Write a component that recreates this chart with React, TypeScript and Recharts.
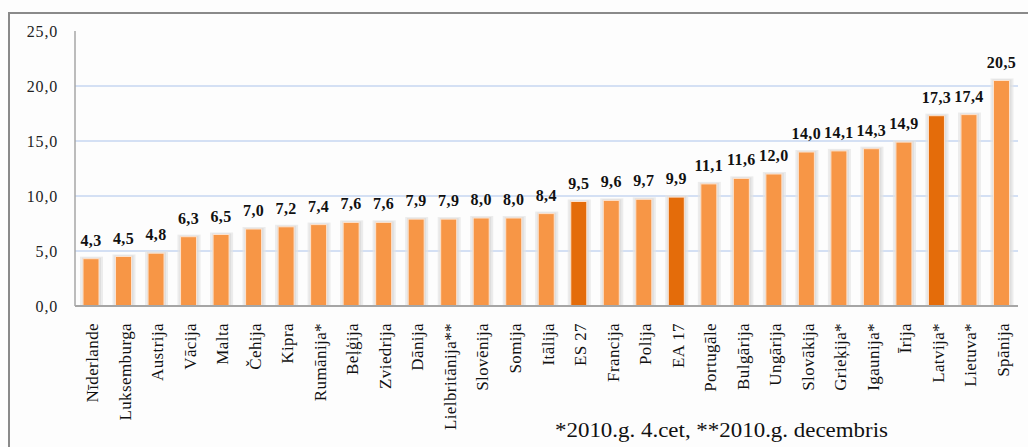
import React from "react";
import { BarChart, Bar, XAxis, YAxis, CartesianGrid, LabelList } from "recharts";

const categories = [
  "Nīderlande", "Luksemburga", "Austrija", "Vācija", "Malta", "Čehija", "Kipra",
  "Rumānija*", "Beļģija", "Zviedrija", "Dānija", "Lielbritānija**", "Slovēnija",
  "Somija", "Itālija", "ES 27", "Francija", "Polija", "EA 17", "Portugāle",
  "Bulgārija", "Ungārija", "Slovākija", "Grieķija*", "Igaunija*", "Īrija",
  "Latvija*", "Lietuva*", "Spānija",
];
const values = [
  4.3, 4.5, 4.8, 6.3, 6.5, 7.0, 7.2, 7.4, 7.6, 7.6, 7.9, 7.9, 8.0, 8.0, 8.4,
  9.5, 9.6, 9.7, 9.9, 11.1, 11.6, 12.0, 14.0, 14.1, 14.3, 14.9, 17.3, 17.4, 20.5,
];
const highlighted = ["ES 27", "EA 17", "Latvija*"];
const yTicks = [0, 5, 10, 15, 20, 25];
const gridValues = [5, 10, 15, 20];
const footnote = "*2010.g. 4.cet, **2010.g. decembris";

const data = categories.map((name, i) => ({ name, value: values[i] }));

const FONT = "Liberation Serif";
const LIGHT = "#F79646";
const DARK = "#E46C0A";

const fmt = (v: number) => v.toFixed(1).replace(".", ",");

const BarShape = (props: any) => {
  const { x, y, width, height, payload } = props;
  if (height <= 0) return null;
  const fill = highlighted.includes(payload.name) ? DARK : LIGHT;
  return (
    <g>
      <rect x={x - 3} y={y - 2} width={width + 7} height={height + 2} fill="#e4e4e4" opacity={0.7} />
      <rect x={x - 1} y={y - 1} width={width + 3} height={height + 1} fill="#d6d6d6" opacity={0.6} />
      <rect x={x} y={y} width={width} height={height} fill={fill} stroke="#fde3cf" strokeWidth={1} />
    </g>
  );
};

const XTick = (props: any) => {
  const { x, payload } = props;
  const bx = x + 7;
  const by = 323;
  return (
    <text
      x={bx}
      y={by}
      transform={`rotate(-90, ${bx}, ${by})`}
      textAnchor="end"
      style={{ fontFamily: FONT, fontSize: 17, letterSpacing: "0.4px" }}
      fill="#111"
    >
      {payload.value}
    </text>
  );
};

const YTick = (props: any) => {
  const { y, payload } = props;
  return (
    <text
      x={58}
      y={y}
      dy="0.35em"
      textAnchor="end"
      style={{ fontFamily: FONT, fontSize: 16, letterSpacing: "0.8px" }}
      fill="#222"
    >
      {fmt(payload.value)}
    </text>
  );
};

const ValueLabel = (props: any) => {
  const { x, y, width, value } = props;
  return (
    <text
      x={x + width / 2}
      y={y - 13}
      textAnchor="middle"
      style={{ fontFamily: FONT, fontSize: 16, fontWeight: "bold", letterSpacing: "0.4px" }}
      fill="#111"
    >
      {fmt(value)}
    </text>
  );
};

export default function App() {
  return (
    <div
      style={{
        position: "absolute",
        left: 0,
        top: 0,
        width: 1028,
        height: 447,
        overflow: "hidden",
        background: "#fdfdfd",
      }}
    >
      <BarChart
        width={1028}
        height={447}
        data={data}
        margin={{ top: 31, right: 10, left: 0, bottom: 0 }}
        barSize={16}
      >
        <CartesianGrid
          vertical={false}
          horizontalValues={gridValues}
          stroke="#c6d6f0"
          strokeWidth={1.5}
        />
        <YAxis
          width={75}
          domain={[0, 25]}
          ticks={yTicks}
          interval={0}
          tickLine={false}
          axisLine={{ stroke: "#a6a6a6", strokeWidth: 1.5 }}
          tick={<YTick />}
        />
        <XAxis
          dataKey="name"
          interval={0}
          height={141}
          tickLine={false}
          axisLine={{ stroke: "#a6a6a6", strokeWidth: 2 }}
          tick={<XTick />}
        />
        <Bar dataKey="value" isAnimationActive={false} shape={<BarShape />}>
          <LabelList dataKey="value" content={<ValueLabel />} />
        </Bar>
      </BarChart>
      <svg
        width={1028}
        height={447}
        style={{ position: "absolute", left: 0, top: 0, pointerEvents: "none" }}
      >
        <line x1={9} y1={12} x2={9} y2={447} stroke="#8a8a8a" strokeWidth={2} />
        <line x1={8} y1={13} x2={1028} y2={13} stroke="#8a8a8a" strokeWidth={2} />
        <text
          x={555}
          y={437}
          textLength={333}
          lengthAdjust="spacingAndGlyphs"
          style={{ fontFamily: FONT, fontSize: 20 }}
          fill="#111"
        >
          {footnote}
        </text>
      </svg>
    </div>
  );
}
